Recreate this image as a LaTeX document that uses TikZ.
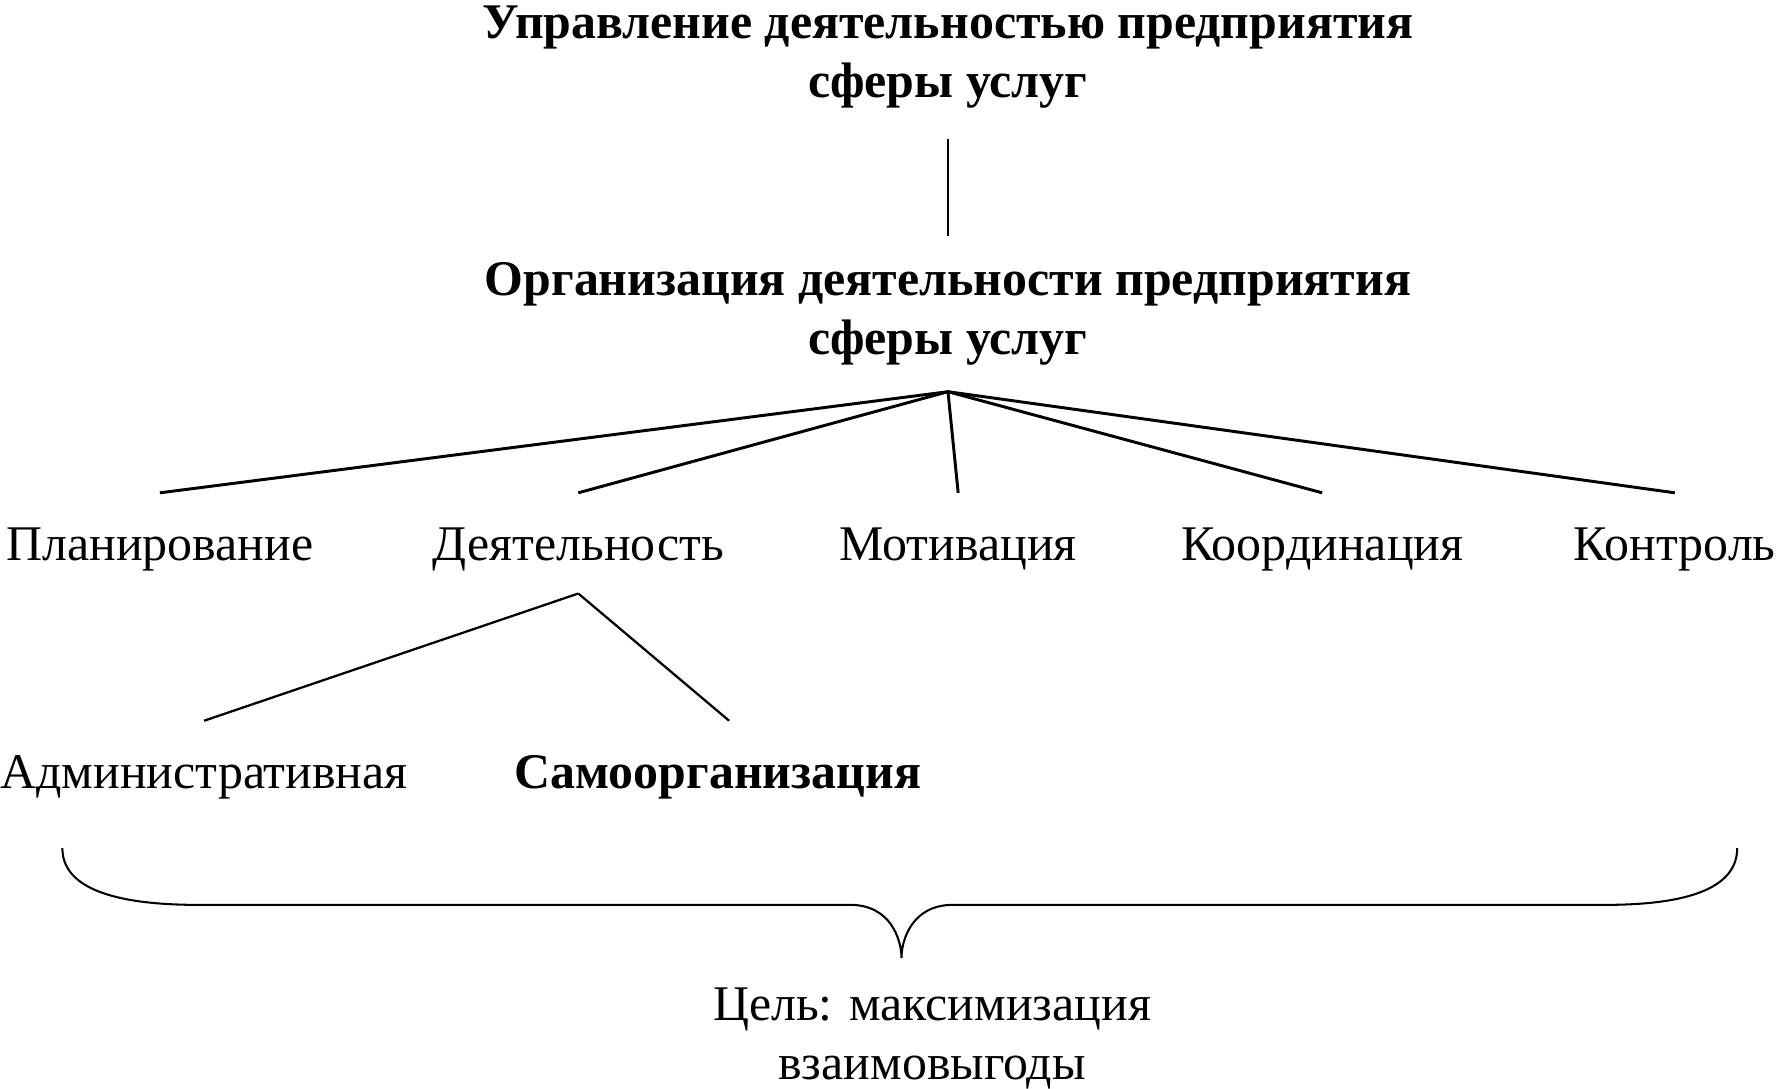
\documentclass[tikz,border=0pt]{standalone}
\usepackage{fontspec}
\setmainfont{Liberation Serif}
\usepackage{tikz}

\tikzset{
  head/.style={font=\fontsize{22}{26}\selectfont\bfseries, align=center, inner ysep=13.5pt},
  item/.style={font=\fontsize{22}{26}\selectfont, anchor=base, text height=16pt, text depth=1pt, inner ysep=13.5pt},
  fan/.style={line width=1.3pt},
  leg/.style={line width=1pt}
}

\begin{document}
\begin{tikzpicture}[x=0.5pt,y=-0.5pt]
\useasboundingbox (0,0) rectangle (1568,959.5);

\node[head, anchor=south] (upr) at (836,123) {Управление деятельностью предприятия\\сферы услуг};
\node[head, anchor=north, inner ysep=11.5pt] (org) at (836,208) {Организация деятельности предприятия\\сферы услуг};
\draw[line width=0.8pt] (upr.south) -- (org.north);

\node[item] (plan) at (141,494) {Планирование};
\node[item] (dea) at (510,494) {Деятельность};
\node[item] (mot) at (845,494) {Мотивация};
\node[item] (koord) at (1166,494) {Координация};
\node[item] (kontr) at (1477,494) {Контроль};
\foreach \n in {plan,dea,mot,koord,kontr} {
\draw[fan] (org.south) -- (\n.north);
}

\node[item] (adm) at (180,695) {Административная};
\node[item, font=\fontsize{22}{26}\selectfont\bfseries] (sam) at (633,695) {Самоорганизация};
\draw[leg] (dea.south) -- (adm.north);
\draw[leg] (dea.south) -- ([xshift=5pt]sam.north);

% brace
\draw[line width=0.9pt] (55,748) .. controls (55,790) and (120,798) .. (175,798) -- (750,798)
  .. controls (785,798) and (795,828) .. (795,845)
  .. controls (795,828) and (805,798) .. (840,798) -- (1415,798)
  .. controls (1470,798) and (1532,790) .. (1532,748);

\node[font=\fontsize{22}{26}\selectfont, align=center, anchor=base] (goal) at (822,952) {Цель: максимизация\\взаимовыгоды};
\end{tikzpicture}
\end{document}
